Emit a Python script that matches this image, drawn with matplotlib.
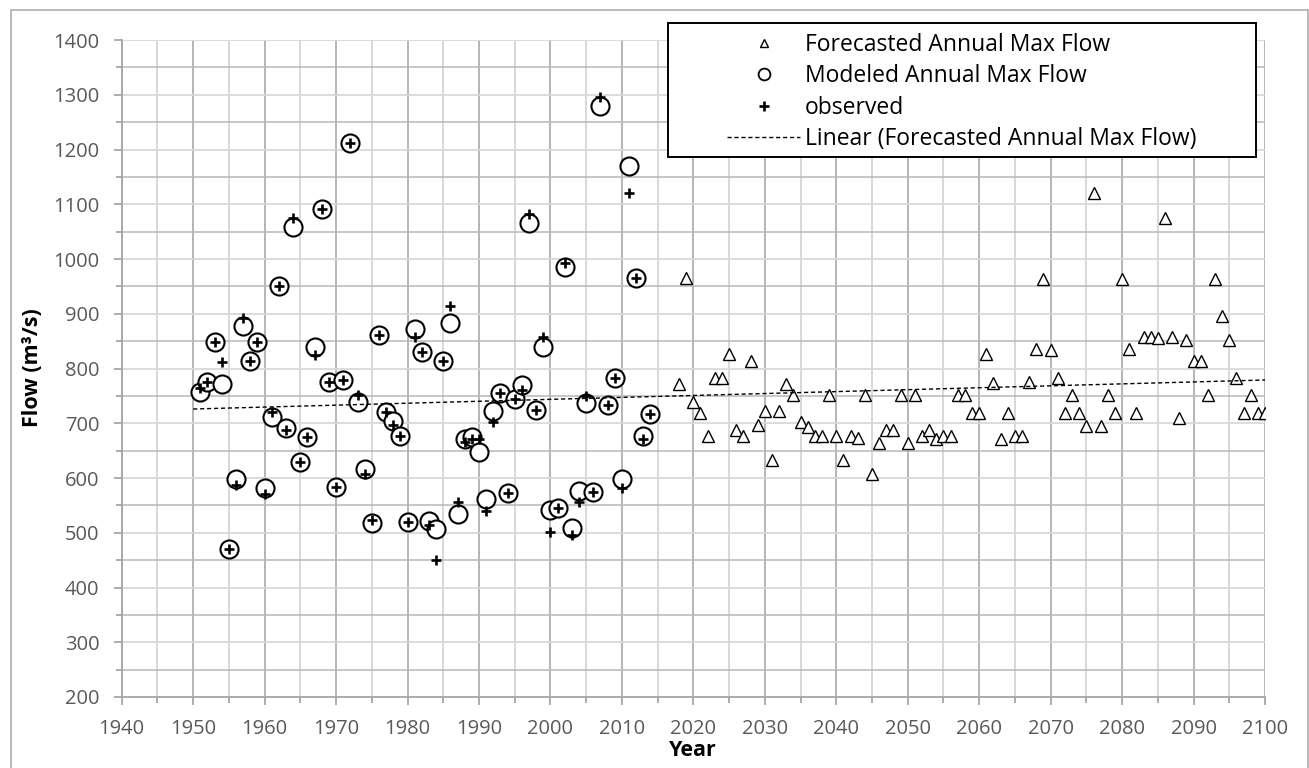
import numpy as np
import matplotlib.pyplot as plt
from matplotlib.lines import Line2D
from matplotlib.patches import Rectangle
from matplotlib.ticker import MultipleLocator

plt.rcParams['font.family'] = ['Open Sans', 'DejaVu Sans']

# Modeled / observed annual maxima (1951-2014)
hist_years = list(range(1951, 2015))
modeled_flow = [757, 775, 848, 771, 471, 599, 877, 813, 848, 581,
                711, 950, 692, 1058, 629, 675, 839, 1092, 776, 583,
                779, 1212, 739, 616, 517, 861, 720, 705, 677, 520,
                872, 830, 521, 507, 813, 883, 534, 672, 675, 647,
                562, 723, 756, 573, 745, 769, 1065, 725, 840, 541,
                546, 985, 509, 576, 737, 574, 1280, 734, 783, 599,
                1170, 966, 677, 717]
observed_flow = [765, 775, 848, 812, 471, 588, 893, 813, 848, 571,
                 721, 950, 688, 1074, 629, 675, 825, 1092, 776, 583,
                 779, 1212, 751, 608, 524, 861, 720, 697, 677, 520,
                 857, 830, 514, 450, 813, 914, 556, 665, 672, 672,
                 540, 702, 756, 573, 745, 760, 1082, 725, 857, 502,
                 546, 993, 495, 557, 749, 574, 1296, 734, 783, 581,
                 1120, 966, 671, 717]

# Forecasted annual maxima (2018-2100)
fc_years = list(range(2018, 2101))
fc_flow = [772, 965, 739, 719, 676, 783, 783, 827, 687, 677,
           813, 696, 722, 632, 722, 772, 751, 703, 694, 676,
           676, 751, 676, 632, 676, 673, 751, 608, 664, 687,
           687, 751, 664, 751, 676, 688, 671, 676, 676, 751,
           751, 719, 719, 827, 773, 671, 719, 676, 676, 776,
           835, 964, 834, 782, 718, 752, 718, 695, 1120, 695,
           752, 718, 964, 835, 718, 857, 857, 855, 1075, 857,
           709, 852, 814, 814, 752, 964, 895, 852, 782, 718,
           752, 718, 718]

# Linear trendline endpoints as drawn in the chart
trend_years = [1950, 2100]
trend_flow = [726, 779]

W, H = 1309, 768
fig = plt.figure(figsize=(W / 100, H / 100), dpi=100)
ax = fig.add_axes([121.7 / W, 1 - 697 / H, (1265 - 121.7) / W, (697 - 40) / H])

ax.plot(fc_years, fc_flow, ls='none', marker='^', ms=8, mfc='white',
        mec='black', mew=1.0, zorder=3)
ax.plot(hist_years, modeled_flow, ls='none', marker='o', ms=13, mfc='white',
        mec='black', mew=1.5, zorder=4)
ax.plot(hist_years, observed_flow, ls='none', marker='+', ms=7.5,
        mec='black', mew=1.9, zorder=5)
ax.plot(trend_years, trend_flow, ls=(0, (3, 2)), color='black', lw=1.0, zorder=6)

ax.set_xlim(1940, 2100)
ax.set_ylim(200, 1400)
ax.xaxis.set_major_locator(MultipleLocator(10))
ax.xaxis.set_minor_locator(MultipleLocator(5))
ax.yaxis.set_major_locator(MultipleLocator(100))
ax.yaxis.set_minor_locator(MultipleLocator(50))

# Excel-like grid: darker 10-year verticals, darker 50-unit horizontals
ax.grid(which='major', axis='x', color='#b0b0b0', lw=1.3)
ax.grid(which='minor', axis='x', color='#d6d6d6', lw=1.3)
ax.grid(which='major', axis='y', color='#d9d9d9', lw=1.3)
ax.grid(which='minor', axis='y', color='#b8b8b8', lw=1.1)
ax.set_axisbelow(True)

for s in ['top', 'right']:
    ax.spines[s].set_visible(False)
for s in ['left', 'bottom']:
    ax.spines[s].set_color('#a6a6a6')
    ax.spines[s].set_linewidth(1.3)

ax.tick_params(which='major', direction='out', length=6, width=1.3,
               color='#a6a6a6', labelsize=14.5, labelcolor='#595959', pad=10)
ax.tick_params(which='minor', direction='out', length=4.5, width=1.3,
               color='#a6a6a6')

fig.text(693 / W, 1 - 751 / H, 'Year', ha='center', va='center',
         fontsize=15.5, fontweight='bold')
fig.text(33 / W, 1 - 368 / H, 'Flow (m³/s)', ha='center', va='center',
         rotation=90, fontsize=15.5, fontweight='bold')

# Outer chart border
fig.add_artist(Rectangle((11 / W, -0.02), (1308 - 11) / W, 1 - 10 / H + 0.02,
                         transform=fig.transFigure, fill=False,
                         ec='#a6a6a6', lw=1.1))

# Legend box and entries
fig.add_artist(Rectangle((668 / W, 1 - 157 / H), (1256 - 668) / W, (157 - 23) / H,
                         transform=fig.transFigure, fc='white', ec='black',
                         lw=1.4, zorder=10))
handles = [
    Line2D([], [], ls='none', marker='^', ms=6, mfc='white', mec='black', mew=1.0),
    Line2D([], [], ls='none', marker='o', ms=8.5, mfc='white', mec='black', mew=1.3),
    Line2D([], [], ls='none', marker='+', ms=7, mec='black', mew=1.9),
    Line2D([], [], ls=(0, (3, 2)), color='black', lw=1.0),
]
labels = ['Forecasted Annual Max Flow', 'Modeled Annual Max Flow', 'observed',
          'Linear (Forecasted Annual Max Flow)']
leg = fig.legend(handles, labels, loc='center left',
                 bbox_to_anchor=(727 / W, 1 - 92 / H), frameon=False,
                 borderpad=0, borderaxespad=0, handlelength=3.2,
                 handletextpad=0.2, labelspacing=0.33, fontsize=16.5)
leg.set_zorder(11)

fig.savefig('out.png', dpi=100)
